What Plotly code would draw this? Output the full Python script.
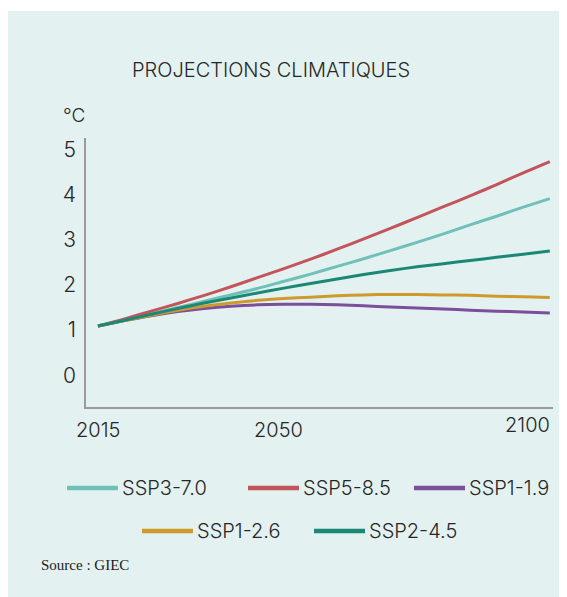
import plotly.graph_objects as go

# data (warming in degC vs 1850-1900)
years = [2015, 2020, 2025, 2030, 2035, 2040, 2045, 2050, 2055,
         2060, 2065, 2070, 2075, 2080, 2085, 2090, 2095, 2100]
ssp370 = [1.09, 1.22, 1.36, 1.50, 1.64, 1.78, 1.92, 2.08, 2.24,
          2.41, 2.58, 2.76, 2.94, 3.13, 3.33, 3.52, 3.72, 3.91]
ssp585 = [1.09, 1.25, 1.42, 1.59, 1.77, 1.96, 2.16, 2.36, 2.57,
          2.79, 3.02, 3.25, 3.49, 3.73, 3.97, 4.22, 4.48, 4.73]
ssp119 = [1.09, 1.21, 1.32, 1.41, 1.48, 1.53, 1.56, 1.57, 1.57,
          1.56, 1.54, 1.51, 1.49, 1.47, 1.44, 1.42, 1.40, 1.38]
ssp126 = [1.09, 1.21, 1.33, 1.44, 1.53, 1.60, 1.66, 1.70, 1.73,
          1.76, 1.78, 1.79, 1.79, 1.78, 1.77, 1.75, 1.74, 1.72]
ssp245 = [1.09, 1.22, 1.35, 1.48, 1.60, 1.71, 1.82, 1.93, 2.03,
          2.13, 2.23, 2.32, 2.40, 2.47, 2.54, 2.61, 2.68, 2.75]

names = ["SSP3-7.0", "SSP5-8.5", "SSP1-1.9", "SSP1-2.6", "SSP2-4.5"]
values = [ssp370, ssp585, ssp119, ssp126, ssp245]
colors = ["#6fc0b8", "#c3555a", "#7b4f9a", "#cf9a2c", "#1b8876"]

y_ticks = [0, 1, 2, 3, 4, 5]
x_labels = ["2015", "2050", "2100"]
x_label_years = [2015, 2049, 2100.5]

W, H = 567, 597
OFF = 8  # page body margin, positions below are measured in page pixels
L, R, T, B = 78, 22, 130, 198
PW, PH = W - L - R, H - T - B
FONT = "Inter"
TXT = "#262626"
BG = "#e3f1f1"


def px_x(px):
    return (px - OFF - L) / PW


def px_y(py):
    return (H - B - (py - OFF)) / PH


def txt_font(size):
    return dict(family=FONT, size=size, color=TXT, weight=300)


fig = go.Figure()
for name, vals, col in zip(names, values, colors):
    fig.add_trace(go.Scatter(x=years, y=vals, name=name, mode="lines",
                             line=dict(color=col, width=3, shape="spline",
                                       smoothing=0.8),
                             showlegend=False))

# background card
fig.add_shape(type="rect", xref="paper", yref="paper", layer="below",
              x0=px_x(0), x1=px_x(W + 20), y0=px_y(H + 20), y1=px_y(11),
              fillcolor=BG, line=dict(width=0))

# custom legend, two centred rows
legend_pos = [(67, 488), (248, 488), (414, 488), (142, 531), (314, 531)]
for name, col, (lx, ly) in zip(names, colors, legend_pos):
    fig.add_shape(type="line", xref="paper", yref="paper",
                  x0=px_x(lx), x1=px_x(lx + 51), y0=px_y(ly), y1=px_y(ly),
                  line=dict(color=col, width=4.5))
    fig.add_annotation(text=name, xref="paper", yref="paper",
                       x=px_x(lx + 53), y=px_y(ly), xanchor="left",
                       yanchor="middle", showarrow=False,
                       font=txt_font(20))

for lab, yr in zip(x_labels, x_label_years):
    anchor = "right" if lab == "2100" else "center"
    fig.add_annotation(text=lab, x=yr, xref="x", yref="paper",
                       y=px_y(430 if lab != "2100" else 425),
                       xanchor=anchor, yanchor="middle", showarrow=False,
                       font=txt_font(20))

fig.add_annotation(text="°C", xref="paper", yref="paper", x=px_x(74),
                   y=px_y(115), xanchor="center", yanchor="middle",
                   showarrow=False, font=txt_font(19))
fig.add_annotation(text="PROJECTIONS CLIMATIQUES", xref="paper",
                   yref="paper", x=px_x(271), y=px_y(70), xanchor="center",
                   yanchor="middle", showarrow=False, font=txt_font(20))
fig.add_annotation(text="Source : GIEC", xref="paper", yref="paper",
                   x=px_x(39), y=px_y(565), xanchor="left", yanchor="middle",
                   showarrow=False,
                   font=dict(family="Liberation Serif", size=15, color="#1a1a1a"))

fig.update_layout(
    width=W, height=H,
    margin=dict(l=L, r=R, t=T, b=B, pad=0),
    paper_bgcolor="white",
    plot_bgcolor="rgba(0,0,0,0)",
    xaxis=dict(range=[2012.75, 2100.6], showgrid=False, zeroline=False,
               showticklabels=False, ticks="", showline=True,
               linecolor="#9a9a9a", linewidth=1.5),
    yaxis=dict(range=[-0.7, 5.25], showgrid=False, zeroline=False,
               tickvals=y_ticks, ticks="", showline=True,
               linecolor="#9a9a9a", linewidth=1.5, ticklabelstandoff=4,
               tickfont=txt_font(21)),
)

fig.write_html("out.html")
